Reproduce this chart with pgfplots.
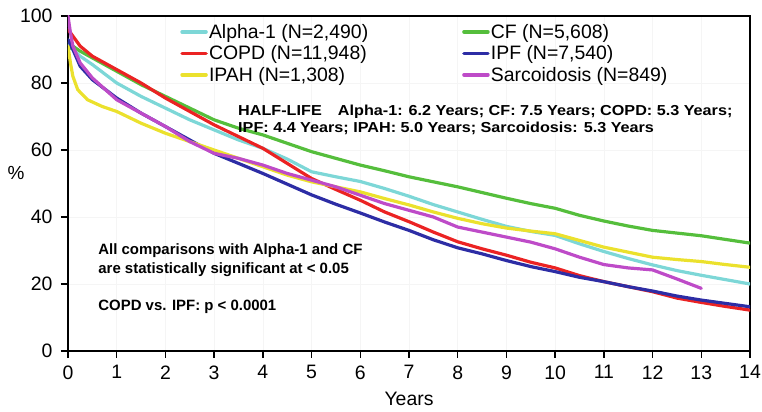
\documentclass[border=0pt]{standalone}
\usepackage{pgfplots}
\pgfplotsset{compat=1.18}
\usepackage{fontspec}
\setmainfont{Liberation Sans}
\definecolor{calpha}{RGB}{125,215,215}
\definecolor{ccf}{RGB}{85,190,60}
\definecolor{ccopd}{RGB}{235,35,35}
\definecolor{cipf}{RGB}{45,45,165}
\definecolor{cipah}{RGB}{235,225,45}
\definecolor{csarc}{RGB}{190,75,200}
\begin{document}
\begin{tikzpicture}
\path[use as bounding box] (-68bp,-61bp) rectangle (694bp,351bp);
\begin{axis}[
  scale only axis, width=682bp, height=335bp,
  xmin=0, xmax=14, ymin=0, ymax=100,
  xtick={0,...,14}, ytick={0,20,...,100},
  axis line style={line width=2.2bp},
  tick style={line width=1.5bp, black},
  tick align=outside, major tick length=7bp,
  xtick pos=left, ytick pos=left,
  grid=major, grid style={gray!8, line width=0.6bp},
  /pgf/number format/assume math mode=true,
  ticklabel style={font=\fontsize{19.5}{21}\selectfont},
  xticklabel style={yshift=-4bp},
  yticklabel style={xshift=-5bp},
  xlabel={Years}, xlabel style={font=\fontsize{19.5}{21}\selectfont, at={(axis description cs:0.5,0)}, anchor=north, yshift=-38bp},
  ylabel={\%}, ylabel style={font=\fontsize{19}{21}\selectfont, rotate=-90, at={(axis description cs:0,0.53)}, anchor=center, xshift=-52bp},
  legend columns=2,
  legend cell align=left,
  legend style={at={(axis cs:2.24,98.6)}, anchor=north west, draw=none, fill=none,
    font=\fontsize{19.5}{21}\selectfont, row sep=3.5bp,
    nodes={inner sep=1.2bp}},
  legend image code/.code={\draw[line width=3.5bp] (0bp,0bp) -- (24bp,0bp);},
  every axis plot/.append style={line width=3.2bp, line join=round, line cap=round},
  clip=true,
]
% Alpha-1
\addplot[calpha] coordinates {(0,92) (0.1,90) (0.25,88) (0.5,85.5) (1,80) (1.5,76) (2,72.5) (2.5,69) (3,66) (3.5,63) (4,60.5) (4.5,57.3) (5,53.5) (5.5,52) (6,50.6) (6.5,48.5) (7,46.2) (7.5,43.7) (8,41.5) (8.5,39.3) (9,37.2) (9.5,35.7) (10,34.5) (10.5,32) (11,29.7) (11.5,27.6) (12,25.7) (12.5,24) (13,22.6) (13.5,21.3) (14,20)};
\addlegendentry{\makebox[252bp][l]{Alpha-1 (N=2,490)}}
% CF
\addplot[ccf] coordinates {(0,90) (0.1,91) (0.25,89.5) (0.5,87.5) (1,83.5) (1.5,79.5) (2,76) (2.5,72.5) (3,69) (3.5,66.5) (4,64.5) (4.5,62) (5,59.5) (5.5,57.5) (6,55.5) (6.5,53.8) (7,52) (7.5,50.5) (8,49) (8.5,47.3) (9,45.6) (9.5,44) (10,42.6) (10.5,40.5) (11,38.8) (11.5,37.3) (12,36) (12.5,35.2) (13,34.4) (13.5,33.3) (14,32.2)};
\addlegendentry{CF (N=5,608)}
% COPD
\addplot[ccopd] coordinates {(0,96) (0.1,94) (0.25,91) (0.5,88) (1,84) (1.5,80) (2,75.5) (2.5,71.5) (3,67.5) (3.5,64) (4,60.5) (4.5,56) (5,51.5) (5.5,48.2) (6,45) (6.5,41.5) (7,38.6) (7.5,35.5) (8,32.6) (8.5,30.5) (9,28.6) (9.5,26.5) (10,24.8) (10.5,22.5) (11,20.7) (11.5,19.2) (12,17.7) (12.5,15.8) (13,14.5) (13.5,13.3) (14,12.2)};
\addlegendentry{\makebox[252bp][l]{COPD (N=11,948)}}
% IPF
\addplot[cipf] coordinates {(0,93) (0.1,90) (0.25,85) (0.5,81) (1,75.5) (1.5,71) (2,67) (2.5,63) (3,59) (3.5,56) (4,53) (4.5,49.8) (5,46.6) (5.5,43.8) (6,41.2) (6.5,38.5) (7,36) (7.5,33.2) (8,30.8) (8.5,29) (9,27) (9.5,25.2) (10,23.7) (10.5,22) (11,20.7) (11.5,19.2) (12,17.9) (12.5,16.4) (13,15.2) (13.5,14.2) (14,13.2)};
\addlegendentry{IPF (N=7,540)}
% IPAH
\addplot[cipah] coordinates {(0,91) (0.05,86) (0.1,82) (0.2,78) (0.4,75) (0.7,73) (1,71.5) (1.5,68) (2,65) (2.5,62.5) (3,60) (3.5,57.5) (4,55) (4.5,52.5) (5,50.5) (5.5,49) (6,47.5) (6.5,45.5) (7,43.6) (7.5,41.5) (8,39.6) (8.5,38) (9,36.7) (9.5,35.8) (10,35) (10.5,33) (11,31) (11.5,29.5) (12,28) (12.5,27.3) (13,26.7) (13.5,25.8) (14,25)};
\addlegendentry{\makebox[252bp][l]{IPAH (N=1,308)}}
% Sarcoidosis
\addplot[csarc] coordinates {(0,100) (0.05,95) (0.1,91) (0.25,86) (0.5,81.5) (1,75) (1.5,71) (2,67) (2.5,62.5) (3,59) (3.5,57.5) (4,55.5) (4.5,53) (5,51) (5.5,49) (6,46.5) (6.5,44) (7,42) (7.5,40) (8,37) (8.5,35.5) (9,34) (9.5,32.5) (10,30.5) (10.5,28) (11,25.8) (11.5,24.8) (12,24.2) (12.5,21.5) (13,18.7)};
\addlegendentry{Sarcoidosis (N=849)}
\node[anchor=west, align=left, font=\fontsize{14.5}{17}\selectfont\bfseries, inner sep=0pt] at (axis cs:3.49,69.1)
  {\scalebox{1.12}[1]{HALF-LIFE\quad Alpha-1: 6.2 Years; CF: 7.5 Years; COPD: 5.3 Years;}\\\scalebox{1.12}[1]{IPF: 4.4 Years; IPAH: 5.0 Years; Sarcoidosis: 5.3 Years}};
\node[anchor=west, align=left, font=\fontsize{15}{19}\selectfont\bfseries, inner sep=0pt] at (axis cs:0.62,27.0)
  {All comparisons with Alpha-1 and CF\\are statistically significant at < 0.05};
\node[anchor=west, font=\fontsize{15}{19}\selectfont\bfseries, inner sep=0pt] at (axis cs:0.62,13.1)
  {COPD vs. IPF: p < 0.0001};
\end{axis}
\end{tikzpicture}
\end{document}
